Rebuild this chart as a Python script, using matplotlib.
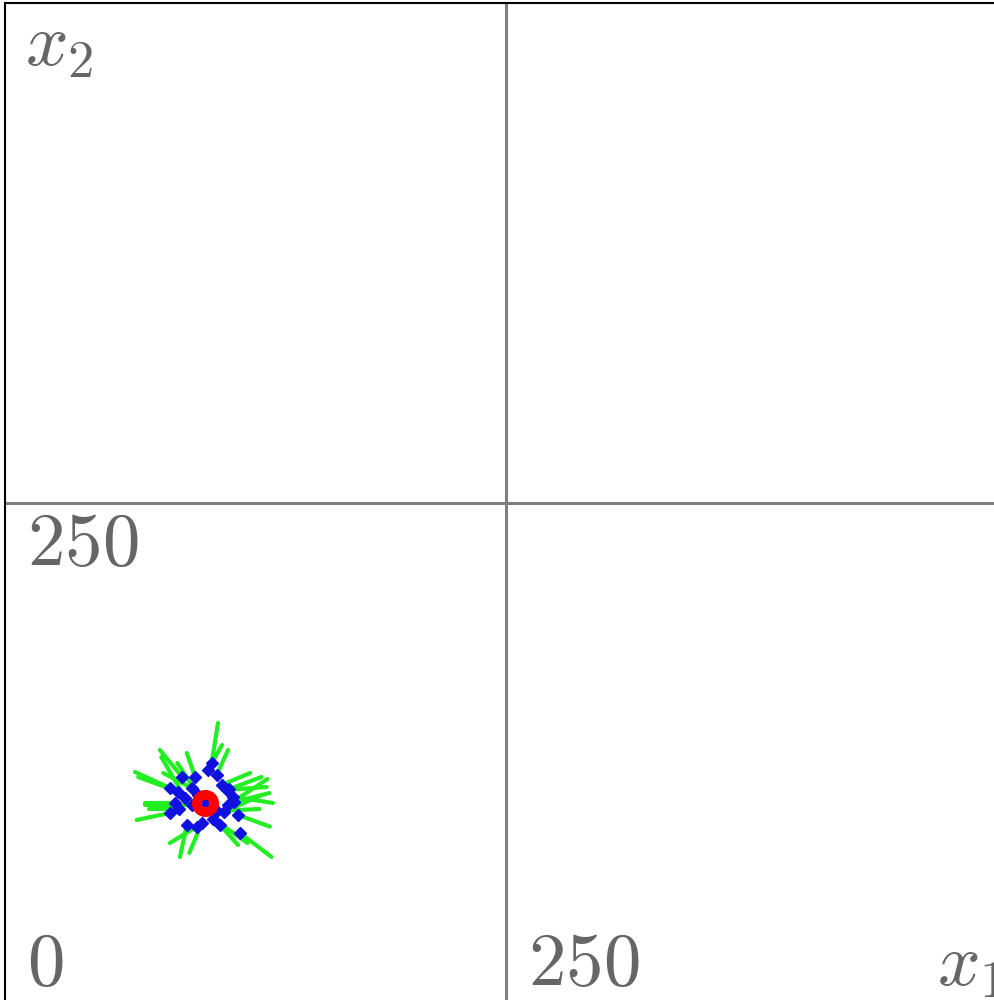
import matplotlib
matplotlib.use("Agg")
import matplotlib.pyplot as plt

plt.rcParams['mathtext.fontset'] = 'cm'

# centre of the swarm
center = (100, 100)

# particle positions (blue) and the end of each velocity line (green)
px = [103.1, 101.3, 88.2, 94.8, 82.3, 86.3, 89.8, 84.8, 82.3, 90.7, 95.7,
      107.3, 117.3, 116.3, 110.6, 113.8, 108.1, 93.2, 93.2, 105.6, 98.2,
      111.3, 109.3, 87.0, 104.0, 112.0, 114.5, 96.5, 106.0]
py = [119.9, 116.5, 113.2, 113.2, 107.5, 105.7, 102.5, 100.0, 95.0, 89.0, 88.2,
      89.0, 85.0, 94.0, 106.5, 103.2, 109.0, 99.0, 107.5, 114.0, 90.0,
      99.0, 95.5, 97.0, 92.0, 107.0, 100.5, 104.0, 96.0]
ex = [106.3, 108.3, 77.3, 90.7, 64.9, 66.5, 78.0, 69.9, 65.7, 87.3, 82.3,
      116.3, 133.0, 132.2, 130.6, 133.7, 122.3, 70.0, 79.0, 111.3, 92.0,
      131.0, 128.0, 72.0, 121.0, 128.0, 132.0, 86.0, 127.0]
ey = [140.0, 129.0, 126.5, 125.0, 115.5, 113.0, 123.0, 100.0, 91.5, 73.0, 80.0,
      79.0, 73.0, 88.2, 108.0, 100.0, 115.0, 99.0, 115.0, 126.5, 75.0,
      112.0, 104.0, 97.0, 80.0, 113.0, 105.0, 120.0, 97.0]

lim = 500
div = 250

fig = plt.figure(figsize=(9.94, 10), dpi=100)
ax = fig.add_axes([5 / 994, -3 / 1000, 1002 / 994, 1000 / 1000])
ax.set_xlim(0, lim)
ax.set_ylim(0, lim)
ax.set_xticks([])
ax.set_yticks([])
for s in ax.spines.values():
    s.set_color('black')
    s.set_linewidth(1.5)

ax.axvline(div, color='#808080', lw=2.2, zorder=1)
ax.axhline(div, color='#808080', lw=2.2, zorder=1)

for i in range(len(px)):
    ax.plot([px[i], ex[i]], [py[i], ey[i]], color='#22ee22', lw=3,
            solid_capstyle='round', zorder=2)
ax.plot(px, py, 'D', color='#1010e0', markersize=6.5, zorder=3)
ax.plot(center[0], center[1], 's', color='#1010e0', markersize=5, zorder=3)
ax.plot(center[0], center[1], 'o', markerfacecolor='none',
        markeredgecolor='#ff0000', markersize=12.5, markeredgewidth=7, zorder=4)

tc = '#666666'
fs = 54
ax.text(10, 469, r'$x_2$', color=tc, fontsize=fs, va='baseline')
ax.text(11, 219, r'$250$', color=tc, fontsize=fs, va='baseline')
ax.text(11, 9, r'$0$', color=tc, fontsize=fs, va='baseline')
ax.text(261, 9, r'$250$', color=tc, fontsize=fs, va='baseline')
ax.text(465, 9, r'$x_1$', color=tc, fontsize=fs, va='baseline')

fig.savefig('out.png', dpi=100)
